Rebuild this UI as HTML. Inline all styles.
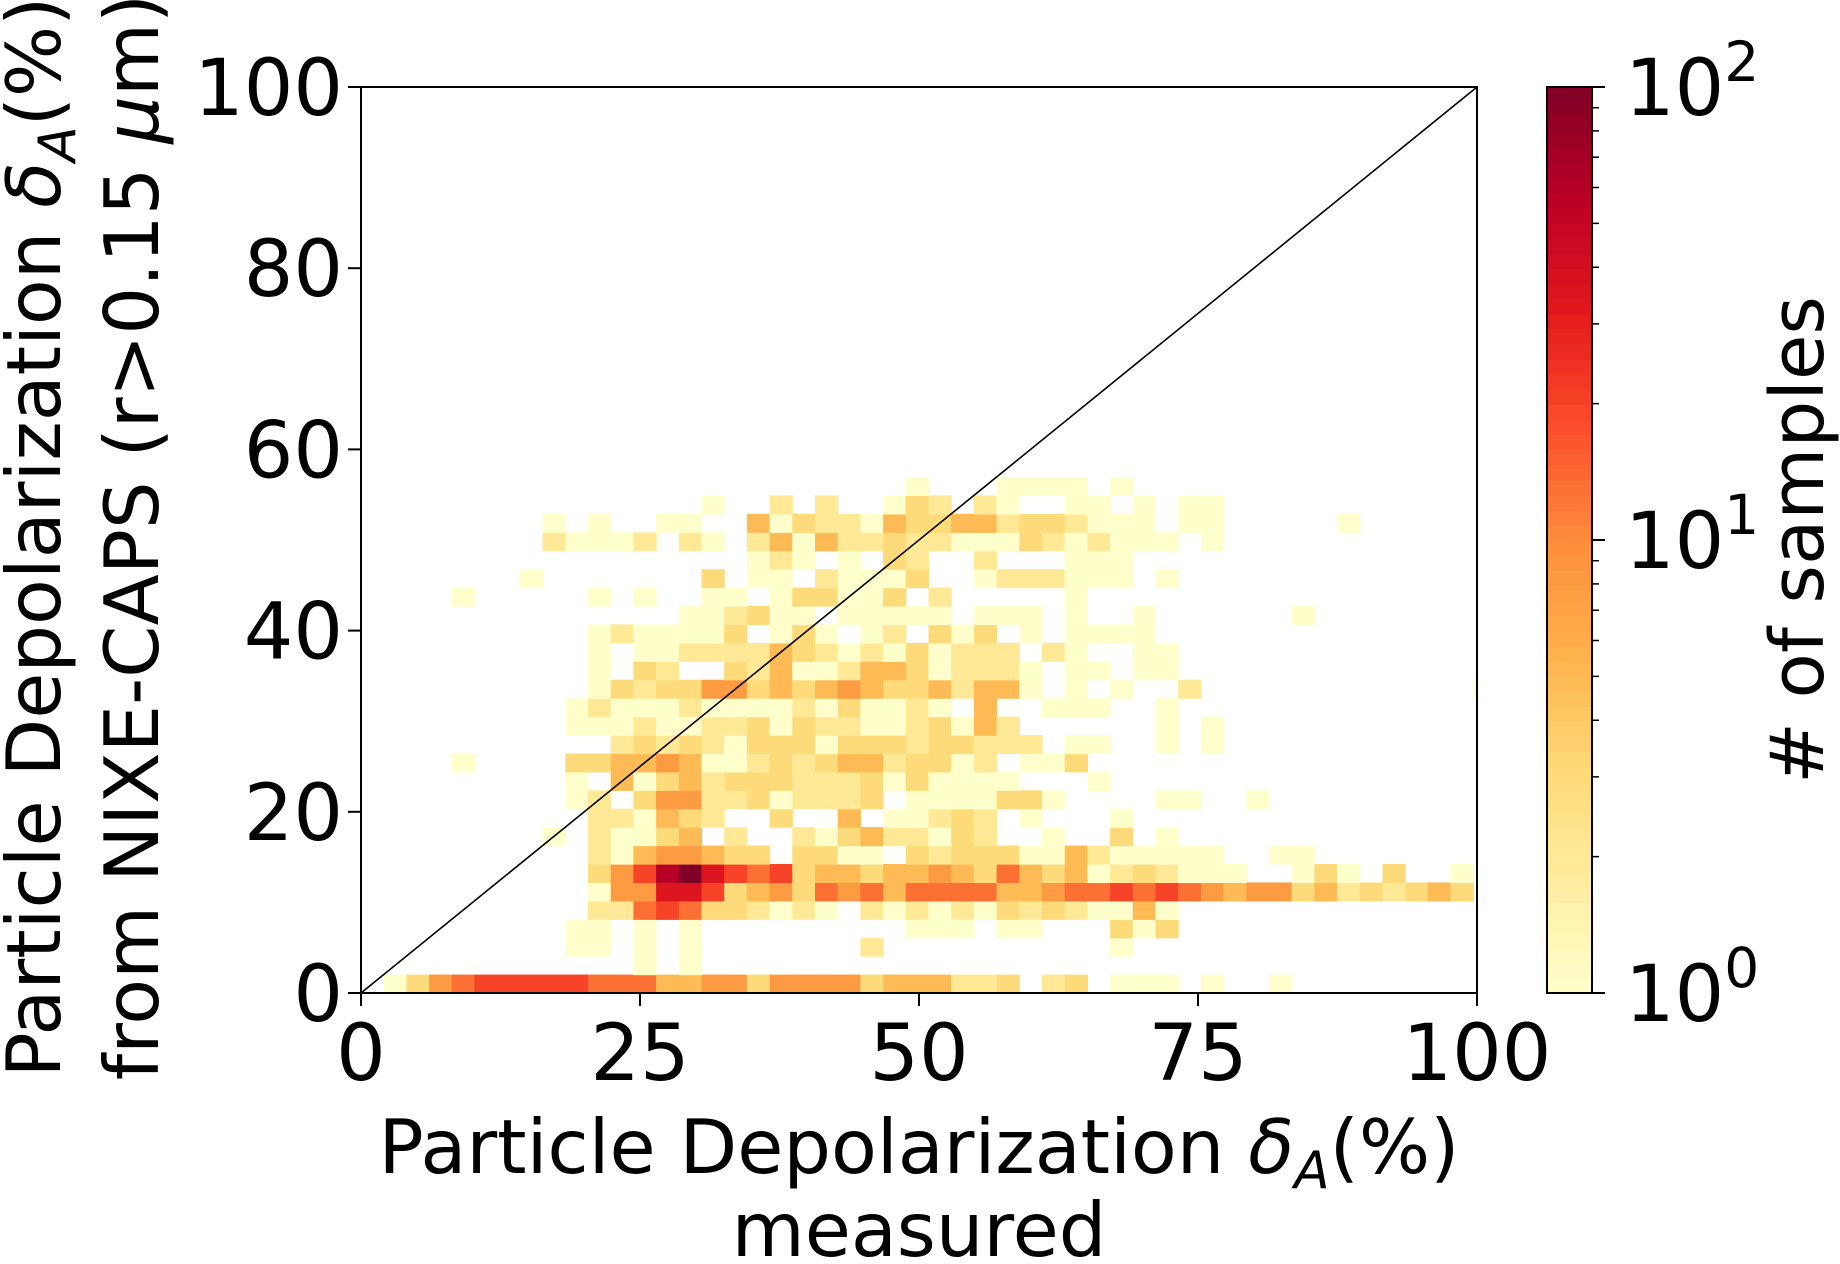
<!DOCTYPE html>
<html><head><meta charset="utf-8"><style>
html,body{margin:0;padding:0;background:#fff;}
svg{display:block;font-family:"DejaVu Sans","Liberation Sans",sans-serif;}
</style></head><body>
<svg id="chart" width="1840" height="1264" viewBox="0 0 1840 1264" xmlns="http://www.w3.org/2000/svg">
<g id="cells"></g>
<line id="diag" stroke="#000" stroke-width="1.6"/>
<rect id="frame" fill="none" stroke="#000" stroke-width="2"/>
<g id="xticks"></g>
<g id="yticks"></g>
<g id="cbar"></g>
<text x="919" y="1173" font-size="75" text-anchor="middle">Particle Depolarization <tspan font-style="italic">δ</tspan><tspan font-style="italic" font-size="52" dy="15">A</tspan><tspan dy="-15">(%)</tspan></text>
<text x="919" y="1256" font-size="75" text-anchor="middle">measured</text>
<text transform="translate(60,537) rotate(-90)" font-size="75" text-anchor="middle">Particle Depolarization <tspan font-style="italic">δ</tspan><tspan font-style="italic" font-size="52" dy="15">A</tspan><tspan dy="-15">(%)</tspan></text>
<text transform="translate(158,537) rotate(-90)" font-size="75" text-anchor="middle">from NIXE-CAPS (r&gt;0.15 <tspan font-style="italic">μ</tspan>m)</text>
<text transform="translate(1823,540) rotate(-90)" font-size="74" text-anchor="middle"># of samples</text>
</svg>
<script>
const xTicks=[0,25,50,75,100];
const yTicks=[0,20,40,60,80,100];
const cbarExps=[0,1,2];
const levelCounts={'1':1,'2':2,'3':3,'4':5,'5':8,'6':13,'7':20,'8':35,'9':60,'X':100};
const binWidth=2.034;
const rows=[
".135677777 6664455355 553444223. 23.111.1.. 1.........",
".......... ..1.1..... .......... .......... ..........",
".........1 1.1.1..... ..2....... ...1...... ..........",
".........1 1.1.1..... ....111.11 ...313.... ..........",
".......... 2267633212 1.21212132 321141.... ..........",
".......... 1558873453 6564666644 5667676545 534232343.",
".......... 3579X87673 4434454364 341232111. .131.3..1.",
".......... 21455433.3 311.323331 14211111.. 11........",
"........1. 21134.2..2 13422132.. 1..3.1.... ..........",
".......... 221432..3. .4.11232.1 ...1...... ..........",
".........1 2.35522312 223.111133 1....11..1 ..........",
".........1 .413423332 223131111. ..1....... ..........",
"....1....3 3445411232 34423312.1 13........ ..........",
".......... .232321333 1333233222 .11..1.1.. ..........",
".........1 1121122313 221123142. .....1.1.. ..........",
".........1 2111211112 131121.4.. 111..1.... ..........",
".......... 1323355343 4543342441 .1.1..2... .........1",
".......... 1.32..3241 1244312221 .11.11.... ..........",
".......... 1.11222243 212131222. 21..11.... ..........",
".......... 1211113.13 1.12.313.1 .1111..... ..........",
".......... ....112311 .11111.111 .1..1..... .1........",
"....1..... 1.1..11.13 3113.2.... .1........ ..........",
".......1.. .....3.11. 21113..122 2111.1.... ..........",
".......... .......121 .1.32..2.. .111...... ..........",
"........21 112.21.241 4223221113 212111.1.. ..........",
"........1. 1..11..413 2214334423 32111.11.. ...1......",
".......... .....1..2. 2..132.21. .11.1.11.. ..........",
".......... .......... ....1...11 11.1...... .........."
];
const X0=361,X1=1477,Y0=993,Y1=87;
const CB0=1547,CB1=1592;
const sx=v=>X0+(v/100)*(X1-X0);
const sy=v=>Y0-(v/100)*(Y0-Y1);
const cy=c=>Y0-(Math.log10(c)/2)*(Y0-Y1);
const stops=["#ffffcc","#ffeda0","#fed976","#feb24c","#fd8d3c","#fc4e2a","#e31a1c","#bd0026","#800026"];
function hex(h){return [1,3,5].map(i=>parseInt(h.substr(i,2),16));}
function cmap(t){t=Math.max(0,Math.min(1,t));const p=t*8,i=Math.min(7,Math.floor(p)),f=p-i;const a=hex(stops[i]),b=hex(stops[i+1]);return "rgb("+a.map((v,k)=>Math.round(v+(b[k]-v)*f)).join(",")+")";}
const NS="http://www.w3.org/2000/svg";
function mk(tag,attrs,parent){const e=document.createElementNS(NS,tag);for(const k in attrs)e.setAttribute(k,attrs[k]);parent.appendChild(e);return e;}
const cells=document.getElementById('cells');
rows.forEach((r,j)=>{const s=r.replace(/ /g,'');for(let i=0;i<s.length;i++){const ch=s[i];if(ch==='.')continue;const c=levelCounts[ch];
const xa=i*binWidth,xb=Math.min(100,(i+1)*binWidth);if(xa>=100)continue;
const ya=j*binWidth,yb=Math.min(100,(j+1)*binWidth);
const rc=mk('rect',{x:sx(xa),y:sy(yb),width:sx(xb)-sx(xa)+0.6,height:sy(ya)-sy(yb)+0.6,fill:cmap(Math.log10(c)/2)},cells);

}});
const d=document.getElementById('diag');d.setAttribute('x1',sx(0));d.setAttribute('y1',sy(0));d.setAttribute('x2',sx(100));d.setAttribute('y2',sy(100));
const fr=document.getElementById('frame');fr.setAttribute('x',X0);fr.setAttribute('y',Y1);fr.setAttribute('width',X1-X0);fr.setAttribute('height',Y0-Y1);
const xg=document.getElementById('xticks');
xTicks.forEach(v=>{const l=mk('line',{x1:sx(v),x2:sx(v),y1:Y0,y2:Y0+13,stroke:'#000','stroke-width':2},xg);


const t=mk('text',{x:sx(v),y:1080,'font-size':78,'text-anchor':'middle'},xg);t.textContent=v;

});
const yg=document.getElementById('yticks');
yTicks.forEach(v=>{const l=mk('line',{x1:X0-13,x2:X0,y1:sy(v),y2:sy(v),stroke:'#000','stroke-width':2},yg);


const t=mk('text',{x:X0-18,y:sy(v)+28,'font-size':78,'text-anchor':'end'},yg);t.textContent=v;

});
const cb=document.getElementById('cbar');
for(let k=0;k<60;k++){const c0=Math.pow(10,2*k/60),c1=Math.pow(10,2*(k+1)/60);
const r=mk('rect',{x:CB0,y:cy(c1),width:CB1-CB0,height:cy(c0)-cy(c1)+0.8,fill:cmap((k+0.5)/60)},cb);

}
const cf=mk('rect',{x:CB0,y:Y1,width:CB1-CB0,height:Y0-Y1,fill:'none',stroke:'#000','stroke-width':2},cb);


cbarExps.forEach(e=>{const v=Math.pow(10,e);
const l=mk('line',{x1:CB1,x2:CB1+13,y1:cy(v),y2:cy(v),stroke:'#000','stroke-width':2},cb);


const t=mk('text',{x:1625,y:cy(v)+28,'font-size':78},cb);t.textContent='10';


const sp=mk('tspan',{'font-size':55,dy:-34},t);sp.textContent=e;
if(e<2){for(let m=2;m<=9;m++){const mv=m*v;const ml=mk('line',{x1:CB1,x2:CB1+7,y1:cy(mv),y2:cy(mv),stroke:'#000','stroke-width':1.5},cb);

}}});
</script>
</body></html>
